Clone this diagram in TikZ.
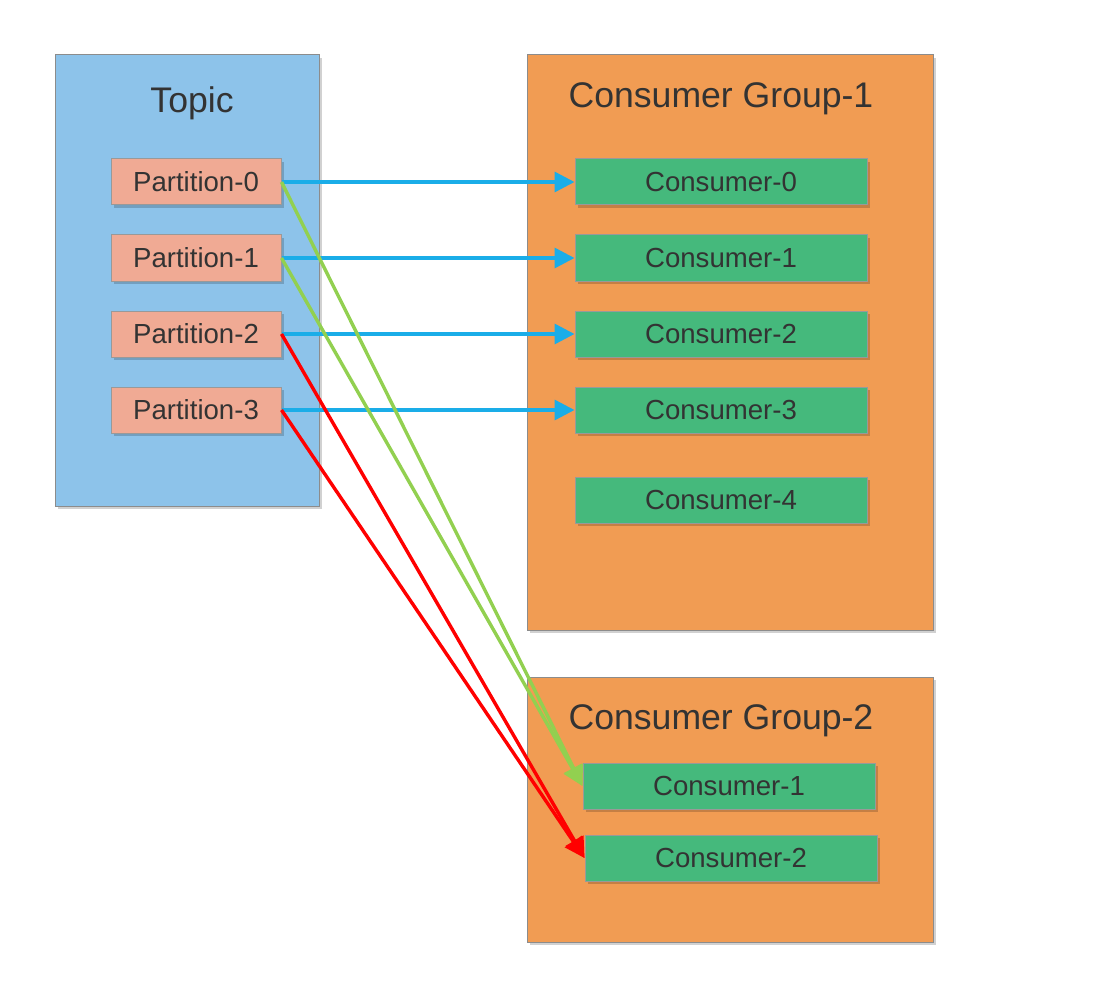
\documentclass[tikz,border=0pt]{standalone}
\usepackage{fontspec}
\setmainfont{Liberation Sans}
\usetikzlibrary{arrows.meta,%   filled arrow tips
shadows}%                        drop shadows under the boxes
\definecolor{topicblue}{HTML}{8DC3EA}
\definecolor{partsalmon}{HTML}{F0AA94}
\definecolor{grouporange}{HTML}{F19C53}
\definecolor{consgreen}{HTML}{45B97C}
\definecolor{arrowblue}{HTML}{1AADE8}
\definecolor{arrowgreen}{HTML}{92D050}
\definecolor{arrowred}{HTML}{FF0000}
\definecolor{textgray}{HTML}{333333}
\tikzset{every node/.style={font=\fontsize{13.8}{16}\selectfont, text=textgray},
  boxshadow/.style={drop shadow={shadow xshift=1.5pt, shadow yshift=-1.5pt, fill=black, opacity=0.18}},
  panel/.style={draw=black!45, line width=0.5pt, boxshadow},
  part/.style={draw=black!40, line width=0.5pt, fill=partsalmon, boxshadow,
    minimum width=85pt, minimum height=23pt, inner sep=0pt},
  cons/.style={draw=black!40, line width=0.5pt, fill=consgreen, boxshadow,
    minimum width=146pt, minimum height=23pt, inner sep=0pt},
  title/.style={font=\fontsize{17.8}{20}\selectfont},
  feed/.style={line width=1.7pt, -{Triangle[length=10pt, width=10pt]}}}

\begin{document}
\begin{tikzpicture}[x=0.5pt, y=-0.5pt]
  \useasboundingbox (0,0) rectangle (1118,984);
  % topic and the two groups
  \draw[panel, fill=topicblue] (55,55) rectangle (319,506);
  \draw[panel, fill=grouporange] (527,55) rectangle (933,630);
  \draw[panel, fill=grouporange] (527,677) rectangle (933,942);
  \node[title] (topic) at (192,103) {Topic};
  \node[title] (group1) at (721,99) {Consumer Group-1};
  \node[title] (group2) at (721,721) {Consumer Group-2};
  % partitions and group-1 consumers
  \foreach \i/\y in {0/182, 1/258, 2/334, 3/410} {
    \node[part] (p\i) at (196,\y) {Partition-\i};
    \node[cons] (a\i) at (721,\y) {Consumer-\i};
  }
  \node[cons] (a4) at (721,500) {Consumer-4};
  % group-2 consumers
  \node[cons] (b1) at (729,786) {Consumer-1};
  \node[cons] (b2) at (731,858) {Consumer-2};
  % assignments
  \foreach \i in {0,1,2,3} \draw[feed, arrowblue] (p\i.east) -- (a\i.west);
  \draw[feed, arrowgreen] (p0.east) -- (b1.west);
  \draw[feed, arrowgreen] (p1.east) -- (b1.west);
  \draw[feed, arrowred] (p2.east) -- (b2.west);
  \draw[feed, arrowred] (p3.east) -- (b2.west);
\end{tikzpicture}
\end{document}
